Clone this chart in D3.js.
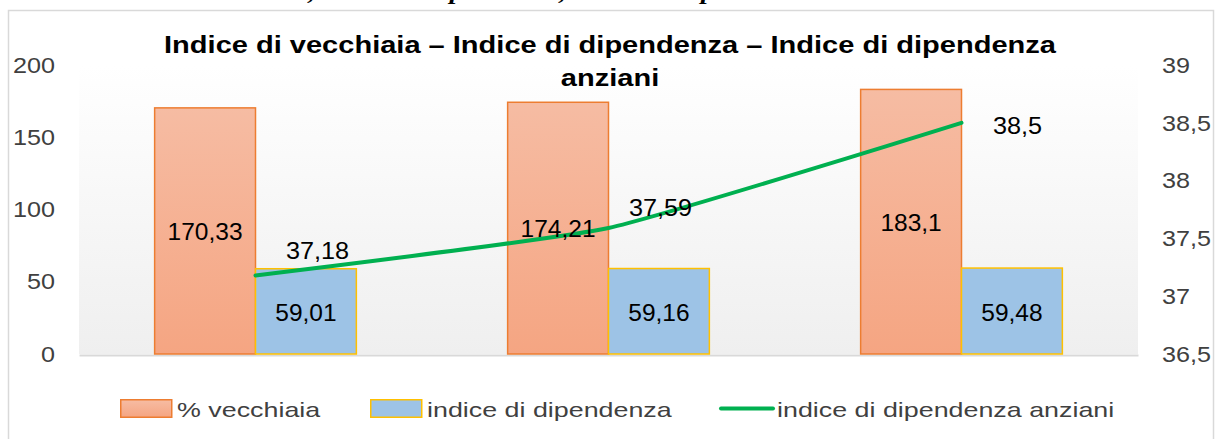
<!DOCTYPE html>
<html>
<head>
<meta charset="utf-8">
<script src="https://cdn.jsdelivr.net/npm/d3@7"></script>
<style>
  body { margin: 0; background: #fff; }
  svg { display: block; }
</style>
</head>
<body>
<div id="chart"></div>
<script>
// data
var categories = ["1", "2", "3"];
var vecchiaia = [170.33, 174.21, 183.1];
var dipendenza = [59.01, 59.16, 59.48];
var anziani = [37.18, 37.59, 38.5];
var leftTicks = [0, 50, 100, 150, 200];
var rightTicks = [36.5, 37, 37.5, 38, 38.5, 39];
var seriesNames = ["% vecchiaia", "indice di dipendenza", "indice di dipendenza anziani"];
var titleLines = ["Indice di vecchiaia \u2013 Indice di dipendenza \u2013 Indice di dipendenza", "anziani"];
var caption = "Figura 5 \u2013 Indice di vecchiaia, indice di dipendenza, indice di dipendenza anziani";

var width = 1217, height = 439;
var plot = {left: 79, right: 1138, top: 65, bottom: 354};
var font = "'Liberation Sans', Arial, sans-serif";

var comma = function(v) { return String(v).replace(".", ","); };

var svg = d3.select("#chart").append("svg")
    .attr("width", width)
    .attr("height", height);

var defs = svg.append("defs");
var gOr = defs.append("linearGradient").attr("id", "gOrange")
    .attr("x1", 0).attr("y1", 0).attr("x2", 0).attr("y2", 1);
gOr.append("stop").attr("offset", "0%").attr("stop-color", "#f6bca3");
gOr.append("stop").attr("offset", "100%").attr("stop-color", "#f5a582");
var gBg = defs.append("linearGradient").attr("id", "gBg")
    .attr("x1", 0).attr("y1", 0).attr("x2", 0).attr("y2", 1);
gBg.append("stop").attr("offset", "0%").attr("stop-color", "#ffffff");
gBg.append("stop").attr("offset", "100%").attr("stop-color", "#efefef");

// text stretched sideways like the source picture
function stext(parent, x, y, str, size, sx, opts) {
  opts = opts || {};
  var g = parent.append("g")
      .attr("transform", "translate(" + x + "," + y + ") scale(" + sx + ",1)");
  return g.append("text")
      .attr("text-anchor", opts.anchor || "middle")
      .attr("font-family", opts.family || font)
      .attr("font-size", size)
      .attr("font-weight", opts.weight || "normal")
      .attr("font-style", opts.style || "normal")
      .attr("fill", opts.fill || "#000")
      .text(str);
}

// caption of the document, cut at the top edge as in the source
var cap = stext(svg, 0, -1, caption, 24, 1.17, {
  anchor: "start",
  family: "'Liberation Serif', 'Times New Roman', serif",
  style: "italic",
  weight: "bold"
});
var shift = cap.node().getSubStringLength(0, 3);
cap.attr("x", -shift);

// chart frame
svg.append("rect")
    .attr("x", 8.5).attr("y", 10.5)
    .attr("width", 1205).attr("height", 440)
    .attr("fill", "#fff")
    .attr("stroke", "#d9d9d9")
    .attr("stroke-width", 1.5);

svg.append("rect")
    .attr("x", plot.left).attr("y", plot.top)
    .attr("width", plot.right - plot.left)
    .attr("height", plot.bottom - plot.top)
    .attr("fill", "url(#gBg)");

var x0 = d3.scaleBand()
    .domain(categories)
    .range([plot.left, plot.right])
    .paddingInner(1.5 / 3.5)
    .paddingOuter(0.75 / 3.5);

var x1 = d3.scaleBand()
    .domain([0, 1])
    .range([0, x0.bandwidth()]);

var yL = d3.scaleLinear().domain([0, 200]).range([plot.bottom, plot.top]);
var yR = d3.scaleLinear().domain([36.5, 39]).range([plot.bottom, plot.top]);

// bottom axis line
var xAxis = svg.append("g")
    .attr("transform", "translate(0," + (plot.bottom + 1) + ")")
    .call(d3.axisBottom(x0).tickSize(0).tickSizeOuter(0).tickFormat(""));
xAxis.select(".domain").attr("stroke", "#d9d9d9").attr("stroke-width", 2);

// left axis
var yAxisL = svg.append("g")
    .attr("transform", "translate(55,0)")
    .call(d3.axisLeft(yL).tickValues(leftTicks).tickSize(0).tickPadding(0));
yAxisL.select(".domain").remove();
yAxisL.selectAll("text")
    .attr("font-family", font).attr("font-size", 22.5).attr("fill", "#404040")
    .attr("transform", "scale(1.12,1)");

// right axis
var yAxisR = svg.append("g")
    .attr("transform", "translate(1162,0)")
    .call(d3.axisRight(yR).tickValues(rightTicks).tickSize(0).tickPadding(0).tickFormat(comma));
yAxisR.select(".domain").remove();
yAxisR.selectAll("text")
    .attr("font-family", font).attr("font-size", 22.5).attr("fill", "#404040")
    .attr("transform", "scale(1.12,1)");

// bars
var groups = svg.selectAll(".cat")
    .data(categories)
    .enter().append("g")
    .attr("class", "cat")
    .attr("transform", function(d) { return "translate(" + x0(d) + ",0)"; });

groups.append("rect")
    .attr("x", x1(0))
    .attr("y", function(d, i) { return yL(vecchiaia[i]); })
    .attr("width", x1.bandwidth())
    .attr("height", function(d, i) { return yL(0) - yL(vecchiaia[i]); })
    .attr("fill", "url(#gOrange)")
    .attr("stroke", "#ed7d31")
    .attr("stroke-width", 1.5);

groups.append("rect")
    .attr("x", x1(1))
    .attr("y", function(d, i) { return yL(dipendenza[i]); })
    .attr("width", x1.bandwidth())
    .attr("height", function(d, i) { return yL(0) - yL(dipendenza[i]); })
    .attr("fill", "#9dc3e6")
    .attr("stroke", "#ffc000")
    .attr("stroke-width", 1.5);

// line (smoothed, like Excel)
var cx = function(i) { return x0(categories[i]) + x0.bandwidth() / 2; };
var line = d3.line()
    .curve(d3.curveCardinal.tension(0.55))
    .x(function(d, i) { return cx(i); })
    .y(function(d) { return yR(d); });

svg.append("path")
    .datum(anziani)
    .attr("d", line)
    .attr("fill", "none")
    .attr("stroke", "#00b050")
    .attr("stroke-width", 4)
    .attr("stroke-linecap", "round");

// bar labels
vecchiaia.forEach(function(v, i) {
  var bx = x0(categories[i]) + x1(0) + x1.bandwidth() / 2;
  stext(svg, bx, (yL(v) + yL(0)) / 2 + 9, comma(v), 24.5, 1);
});
dipendenza.forEach(function(v, i) {
  var bx = x0(categories[i]) + x1(1) + x1.bandwidth() / 2;
  stext(svg, bx, (yL(v) + yL(0)) / 2 + 10, comma(v), 24.5, 1);
});

// line labels, placed as in the source
var lineLabelOffset = [[62, -25], [52, -21], [56, 2]];
anziani.forEach(function(v, i) {
  stext(svg, cx(i) + lineLabelOffset[i][0], yR(v) + lineLabelOffset[i][1] + 9, comma(v), 24.5, 1.03);
});

// title
stext(svg, 610, 53, titleLines[0], 24, 1.21, {weight: "bold"});
stext(svg, 610, 86, titleLines[1], 24, 1.21, {weight: "bold"});

// legend
var legendY = 417;
svg.append("rect").attr("x", 120.75).attr("y", 399.75).attr("width", 51).attr("height", 17.5)
    .attr("fill", "url(#gOrange)").attr("stroke", "#ed7d31").attr("stroke-width", 1.5);
stext(svg, 177, legendY, seriesNames[0], 20.5, 1.31, {anchor: "start", fill: "#404040"});

svg.append("rect").attr("x", 370.75).attr("y", 399.75).attr("width", 51).attr("height", 17.5)
    .attr("fill", "#9dc3e6").attr("stroke", "#ffc000").attr("stroke-width", 1.5);
stext(svg, 427, legendY, seriesNames[1], 20.5, 1.31, {anchor: "start", fill: "#404040"});

svg.append("line").attr("x1", 721).attr("x2", 773).attr("y1", 408.5).attr("y2", 408.5)
    .attr("stroke", "#00b050").attr("stroke-width", 4).attr("stroke-linecap", "round");
stext(svg, 777, legendY, seriesNames[2], 20.5, 1.31, {anchor: "start", fill: "#404040"});
</script>
</body>
</html>
